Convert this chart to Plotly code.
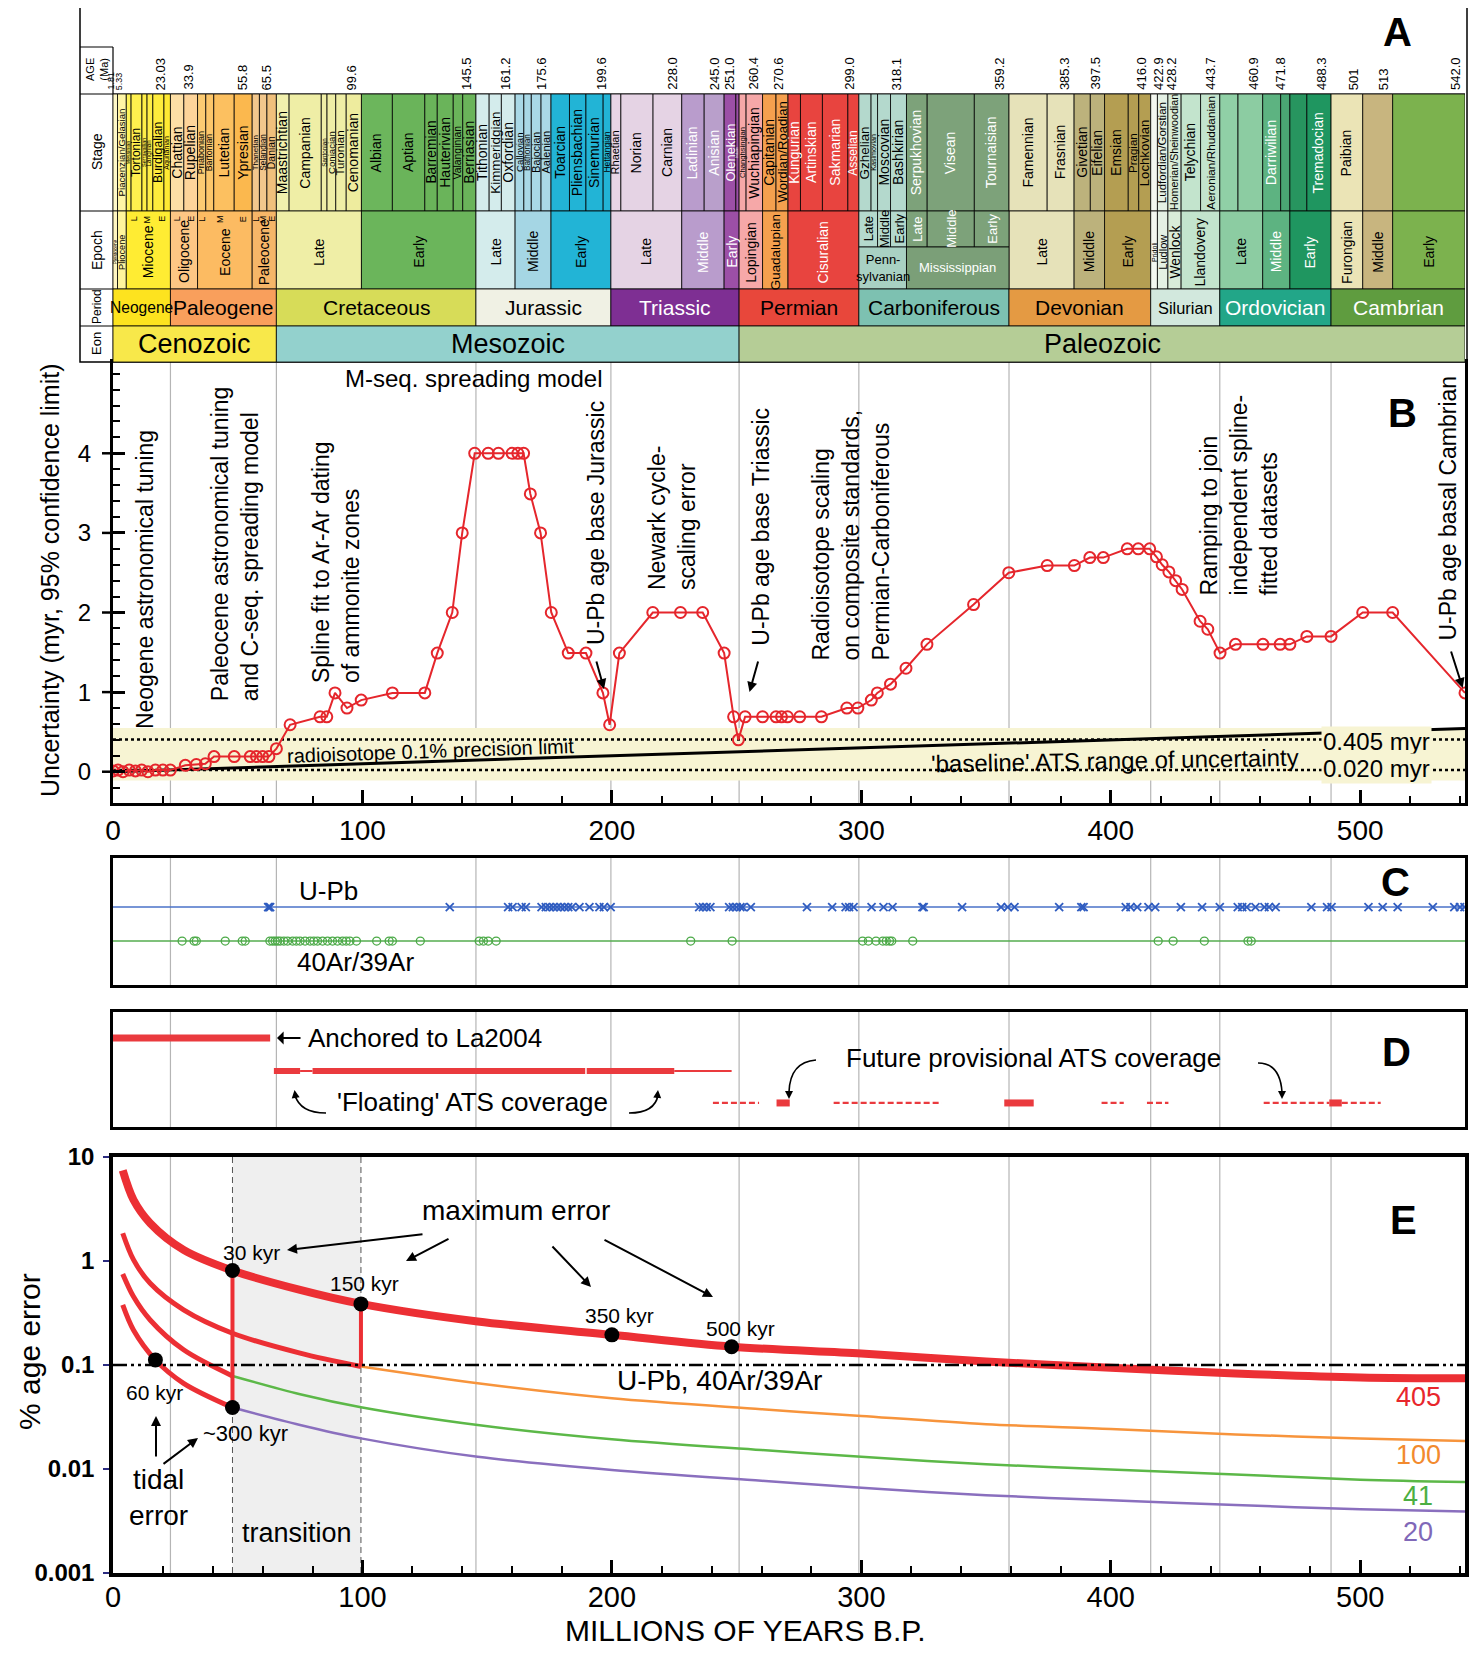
import plotly.graph_objects as go

FONT = "Liberation Sans, Arial, Helvetica, sans-serif"
OFF = 8                      # page body margin of the html page
W, H = 1481 - 2 * OFF, 1658 - 2 * OFF
XL, XR = 113, 1465           # page pixel position of 0 Ma and 542 Ma
XMAX = 542.0
SC = (XR - XL) / XMAX


def P(xpx):
    return (xpx - XL) / (XR - XL)


def Q(ypx):
    return 1 - (ypx - OFF) / H


# ======================= DATA =======================
# ---- Panel A : time scale (Ma) ----
age_ticks = [1.81, 5.33, 23.03, 33.9, 55.8, 65.5, 99.6, 145.5, 161.2, 175.6, 199.6, 228.0, 245.0, 251.0,
             260.4, 270.6, 299.0, 318.1, 359.2, 385.3, 397.5, 416.0, 422.9, 428.2, 443.7, 460.9, 471.8,
             488.3, 501, 513, 542.0]
age_tick_text = ["1.81", "5.33", "23.03", "33.9", "55.8", "65.5", "99.6", "145.5", "161.2", "175.6", "199.6",
                 "228.0", "245.0", "251.0", "260.4", "270.6", "299.0", "318.1", "359.2", "385.3", "397.5",
                 "416.0", "422.9", "428.2", "443.7", "460.9", "471.8", "488.3", "501", "513", "542.0"]

stage_bounds = [0, 1.81, 5.33, 7.25, 11.61, 13.65, 15.97, 20.43, 23.03,
                28.4, 33.9, 37.2, 40.4, 48.6, 55.8, 58.7, 61.7, 65.5,
                70.6, 83.5, 85.8, 89.3, 93.5, 99.6, 112.0, 125.0, 130.0, 136.4, 140.2, 145.5,
                150.8, 155.7, 161.2, 164.7, 167.7, 171.6, 175.6, 183.0, 189.6, 196.5, 199.6,
                203.6, 216.5, 228.0, 237.0, 245.0, 249.7, 251.0,
                253.8, 260.4, 265.8, 270.6, 275.6, 284.4, 294.6, 299.0,
                303.9, 306.5, 311.7, 318.1, 326.4, 345.3, 359.2,
                374.5, 385.3, 391.8, 397.5, 407.0, 411.2, 416.0,
                418.7, 422.9, 428.2, 436.0, 443.7,
                451.0, 460.9, 468.1, 471.8, 478.6, 488.3,
                501.0, 513.0, 542.0]
stage_names = ["", "Piacenzian/Gelasian", "Messinian", "Tortonian", "Serravallian", "Langhian", "Burdigalian", "Aquitanian",
               "Chattian", "Rupelian", "Priabonian", "Bartonian", "Lutetian", "Ypresian", "Thanetian", "Selandian", "Danian",
               "Maastrichtian", "Campanian", "Santonian", "Coniacian", "Turonian", "Cenomanian", "Albian", "Aptian",
               "Barremian", "Hauterivian", "Valanginian", "Berriasian",
               "Tithonian", "Kimmeridgian", "Oxfordian", "Callovian", "Bathonian", "Bajocian", "Aalenian", "Toarcian",
               "Pliensbachian", "Sinemurian", "Hettangian",
               "Rhaetian", "Norian", "Carnian", "Ladinian", "Anisian", "Olenekian", "Induan",
               "Changhsingian", "Wuchiapingian", "Capitanian", "Wordian/Roadian", "Kungurian", "Artinskian", "Sakmarian", "Asselian",
               "Gzhelian", "Kasimovian", "Moscovian", "Bashkirian", "Serpukhovian", "Visean", "Tournaisian",
               "Famennian", "Frasnian", "Givetian", "Eifelian", "Emsian", "Pragian", "Lochkovian",
               "", "Ludfordian/Gorstian", "Homerian/Sheinwoodian", "Telychian", "Aeronian/Rhuddanian",
               "", "", "Darriwilian", "", "", "Tremadocian",
               "Paibian", "", ""]
stage_colors = ["#fff9c8", "#fff6a6", "#fff35a", "#fff04e", "#ffee48", "#ffee48", "#ffec3c", "#ffe933",
                "#fddfa6", "#fdd49a", "#fccb72", "#fcc66a", "#fcc060", "#fbb84e", "#f2c78c", "#f2c78c", "#f0c07c",
                "#f1f0ad", "#efeea6", "#efeea6", "#efeea6", "#efeea6", "#eeec9e", "#6cb65c", "#6ab45a",
                "#6ab45a", "#6ab45a", "#6ab45a", "#6ab45a",
                "#d4ecec", "#d4ecec", "#d4ecec", "#a9d8e6", "#a9d8e6", "#a9d8e6", "#a9d8e6", "#22b4d6",
                "#22b4d6", "#22b4d6", "#22b4d6",
                "#e7d5e6", "#e5d3e4", "#e5d3e4", "#b99ccc", "#b99fcb", "#9c4fa6", "#9c4fa6",
                "#f6a8a8", "#f6a8a8", "#f5a04e", "#f5a04e", "#e8443f", "#e8443f", "#e8443f", "#e8443f",
                "#b4d9cd", "#b4d9cd", "#b4d9cd", "#b4d9cd", "#7da27a", "#7da27a", "#7da27a",
                "#e6e2b9", "#e6e2b9", "#bcb27c", "#bcb27c", "#b49e52", "#b49e52", "#b49e52",
                "#f3f7f0", "#e4f0e4", "#d9ecd9", "#c3e4cd", "#c3e4cd",
                "#90d0a6", "#8ccca2", "#5db381", "#4aa673", "#27955f", "#1f9660",
                "#ebe4b6", "#c8b57f", "#7cb24e"]
white_text_stages = ["Ladinian", "Anisian", "Olenekian", "Induan", "Kungurian", "Artinskian", "Sakmarian",
                     "Asselian", "Serpukhovian", "Visean", "Tournaisian", "Darriwilian", "Tremadocian"]

epoch_names = ["Pleistocene", "Pliocene", "Miocene", "Oligocene", "Eocene", "Paleocene", "Late", "Early",
               "Late", "Middle", "Early", "Late", "Middle", "Early", "Lopingian", "Guadalupian", "Cisuralian",
               "Late", "Middle", "Early", "Pridoli", "Ludlow", "Wenlock", "Llandovery", "Late", "Middle", "Early",
               "Furongian", "Middle", "Early"]
epoch_start = [0, 1.81, 5.33, 23.03, 33.9, 55.8, 65.5, 99.6, 145.5, 161.2, 175.6, 199.6, 228.0, 245.0, 251.0,
               260.4, 270.6, 359.2, 385.3, 397.5, 416.0, 418.7, 422.9, 428.2, 443.7, 460.9, 471.8, 488.3, 501.0, 513.0]
epoch_end = [1.81, 5.33, 23.03, 33.9, 55.8, 65.5, 99.6, 145.5, 161.2, 175.6, 199.6, 228.0, 245.0, 251.0, 260.4,
             270.6, 299.0, 385.3, 397.5, 416.0, 418.7, 422.9, 428.2, 443.7, 460.9, 471.8, 488.3, 501.0, 513.0, 542.0]
epoch_colors = ["#fff6c0", "#fff59c", "#ffec33", "#fdc684", "#fcbb62", "#f6b668", "#efeea6", "#6bb55b",
                "#d4ecec", "#a5d6e4", "#22b4d6", "#e5d3e4", "#b99ccc", "#9c4fa6", "#f6a8a8", "#f5a04e", "#e8443f",
                "#e6e2b9", "#bcb27c", "#b49e52", "#f3f7f0", "#e4f0e4", "#d9ecd9", "#c3e4cd", "#8ccca2", "#5db381",
                "#1f9660", "#ebe4b6", "#c8b57f", "#7cb24e"]
epoch_text = ["k", "k", "k", "k", "k", "k", "k", "k", "k", "k", "k", "k", "w", "w", "k", "k", "w",
              "k", "k", "k", "k", "k", "k", "k", "k", "w", "w", "k", "k", "k"]

carb_sub_names = ["Late", "Middle", "Early", "Late", "Middle", "Early"]
carb_sub_bounds = [299.0, 306.5, 311.7, 318.1, 326.4, 345.3, 359.2]
carb_sub_colors = ["#b4d9cd", "#b4d9cd", "#b4d9cd", "#7da27a", "#7da27a", "#7da27a"]
carb_sub_text = ["k", "k", "k", "w", "w", "w"]
carb_names = ["Penn-<br>sylvanian", "Mississippian"]
carb_bounds = [299.0, 318.1, 359.2]
carb_colors = ["#a9d1c3", "#7b9f78"]
carb_text = ["k", "w"]

cen_sub_names = ["L", "M", "E", "L", "E", "L", "M", "E", "L", "M", "E"]
cen_sub_start = [5.33, 11.61, 15.97, 23.03, 28.4, 33.9, 37.2, 48.6, 55.8, 58.7, 61.7]
cen_sub_end = [11.61, 15.97, 23.03, 28.4, 33.9, 37.2, 48.6, 55.8, 58.7, 61.7, 65.5]

period_names = ["Neogene", "Paleogene", "Cretaceous", "Jurassic", "Triassic", "Permian", "Carboniferous",
                "Devonian", "Silurian", "Ordovician", "Cambrian"]
period_bounds = [0, 23.03, 65.5, 145.5, 199.6, 251.0, 299.0, 359.2, 416.0, 443.7, 488.3, 542.0]
period_colors = ["#fde31f", "#f99f5c", "#d7dc58", "#f0f1e4", "#7e2f93", "#e8473b", "#7dc1b1", "#e49a43",
                 "#d2e8dd", "#22a688", "#5f9c3f"]
period_text = ["k", "k", "k", "k", "w", "k", "k", "k", "k", "w", "w"]

eon_names = ["Cenozoic", "Mesozoic", "Paleozoic"]
eon_bounds = [0, 65.5, 251.0, 542.0]
eon_colors = ["#f8e84a", "#93d1cd", "#b5cd96"]

boundary_lines = [23.03, 65.5, 145.5, 199.6, 251.0, 299.0, 359.2, 416.0, 443.7, 488.3]
boundary_lines_e = [23.03, 145.5, 251.0, 299.0, 359.2, 416.0, 443.7, 488.3]

# ---- Panel B : uncertainty (myr) ----
ageB = [0, 2, 4, 6.5, 9, 11.5, 14, 17, 20, 23,
        29, 33.4, 37, 40.5, 48.6, 55, 57.5, 60, 62.5, 65.5,
        71, 83, 85.7, 89, 93.8, 99.5, 112, 125, 130, 136,
        140, 145, 150.4, 154.5, 160, 162.3, 164.6, 167.3, 171.4, 175.7,
        182.5, 189.6, 196.4, 199.1, 203, 216.4, 227.5, 236.4, 245, 248.8,
        250.7, 253.4, 260.4, 265.8, 268, 270.4, 275.3, 284, 294.2, 298.6,
        304, 306.4, 311.7, 317.9, 326.3, 345, 359.1, 374.5, 385.4, 391.6,
        397, 406.6, 411, 415.6, 418.3, 420.6, 423.3, 426, 428.6, 435.8,
        438.9, 443.8, 450, 461, 467.9, 471.8, 478.6, 488.3, 501, 513,
        542]
uncB = [0.01, 0.02, 0.0, 0.02, 0.01, 0.02, 0.0, 0.02, 0.02, 0.02,
        0.08, 0.09, 0.10, 0.19, 0.19, 0.19, 0.19, 0.19, 0.19, 0.29,
        0.59, 0.69, 0.69, 0.99, 0.80, 0.90, 0.99, 0.99, 1.49, 2.0,
        3.0, 4.0, 4.0, 4.0, 4.0, 4.0, 4.0, 3.49, 3.0, 2.0,
        1.49, 1.49, 0.99, 0.59, 1.49, 2.0, 2.0, 2.0, 1.49, 0.69,
        0.40, 0.69, 0.69, 0.69, 0.69, 0.69, 0.69, 0.69, 0.80, 0.80,
        0.90, 0.99, 1.10, 1.30, 1.60, 2.10, 2.50, 2.59, 2.59, 2.69,
        2.69, 2.80, 2.80, 2.80, 2.70, 2.60, 2.51, 2.40, 2.29, 1.89,
        1.79, 1.49, 1.60, 1.60, 1.60, 1.60, 1.70, 1.70, 2.0, 2.0,
        0.99]
precision_age = [0, 542]
precision_unc = [0.0, 0.542]
baseline_levels = [0.405, 0.020]
band_range = [-0.11, 0.55]

# ---- Panel C : radioisotope dates (Ma) ----
upb_ages = [62.2, 62.6, 63.0, 135, 158.4, 160.2, 163.8, 165.5, 171.8, 173.5, 175, 176.5, 178, 179.5, 181,
            182.5, 184, 187, 191, 195, 196.8, 199.5, 235, 236.5, 238, 239.5, 247, 248.5, 250, 251.5, 252.5,
            255.7, 278.2, 288.3, 293.7, 295.1, 296.9, 304.1, 308.9, 312.5, 324.5, 325, 340.4, 356, 358.7,
            361.4, 379.3, 388.2, 389.1, 406, 407.9, 410.6, 415.1, 417.8, 428.1, 436.6, 443.7, 450.9, 452.7,
            454.5, 458, 461.6, 463.4, 466.1, 480.4, 486.7, 488.5, 503.3, 509, 515, 529.1, 537.7, 540.0, 541.8]
ar_ages = [27.7, 32.5, 33.4, 45, 51.8, 53, 62.9, 64, 65, 66, 67, 68.5, 70, 72, 73.5, 75, 77, 79, 80.5, 82,
           84, 86, 88, 90, 92, 93.5, 95, 97.6, 105.7, 110.7, 112, 123.2, 146.8, 148.5, 150.4, 153.6, 231.6,
           248.2, 300.5, 302.8, 305.9, 308.6, 310, 311.3, 312.2, 320.6, 419, 425, 437.5, 455, 456.3]

# ---- Panel D : ATS coverage (Ma) ----
anchored_start = [0]
anchored_end = [63]
floating_thick_start = [64.5, 80, 189.9]
floating_thick_end = [75, 189.3, 225]
floating_thin_start = [75, 225]
floating_thin_end = [80, 248]
future_dash_start = [240.5, 288.9, 396.3, 414.5, 461.3, 492.6]
future_dash_end = [259, 332.2, 405.2, 423.1, 487.6, 508.2]
future_thick_start = [266, 357.3, 487.6]
future_thick_end = [271.3, 369.1, 492.6]

# ---- Panel E : % age error ----
e405_age = [3.9, 8.2, 14.9, 28.3, 47.9, 75, 99.4, 146.2, 200, 248, 300, 350, 400, 450, 500, 542]
e405_val = [7.43, 3.88, 2.31, 1.28, 0.81, 0.527, 0.387, 0.262, 0.195, 0.150, 0.129, 0.108, 0.094, 0.083, 0.076, 0.0745]
e100_age = [3.9, 8.2, 14.9, 28.3, 47.9, 75, 99.4, 146.2, 200, 260, 300, 350, 400, 450, 500, 542]
e100_val = [1.85, 1.03, 0.61, 0.339, 0.202, 0.13, 0.0966, 0.0668, 0.0479, 0.0376, 0.0323, 0.027, 0.0243, 0.0215, 0.0197, 0.0186]
e41_age = [3.9, 8.2, 14.9, 28.3, 47.9, 75, 99.4, 146.2, 200, 260, 300, 350, 400, 450, 500, 542]
e41_val = [0.75, 0.455, 0.271, 0.14, 0.0785, 0.0524, 0.0393, 0.0265, 0.0193, 0.0152, 0.0131, 0.0111, 0.0099, 0.00885, 0.0079, 0.0075]
e20_age = [3.9, 8.2, 17, 28.3, 47.9, 75, 99.4, 146.2, 200, 260, 300, 350, 400, 450, 500, 542]
e20_val = [0.378, 0.217, 0.112, 0.0667, 0.039, 0.0265, 0.0197, 0.0131, 0.0098, 0.0077, 0.0066, 0.0056, 0.0050, 0.0045, 0.0041, 0.0039]
e_split_100 = 99.4
e_split_low = 47.9
e_mark_age = [47.9, 99.4, 200, 248, 17, 47.9]
e_mark_val = [0.81, 0.387, 0.195, 0.150, 0.112, 0.039]
e_vlines_age = [47.9, 99.4]
e_vlines_lo = [0.039, 0.0966]
e_vlines_hi = [0.81, 0.387]
utpb_level = 0.1
transition = [47.9, 99.4]

# ======================= FIGURE =======================
RED = "#e5262c"
fig = go.Figure()
shapes = []
anns = []


def ann(x, y, text, size, xref="paper", yref="paper", color="black", angle=0, xa="center", ya="middle",
        bold=False, **kw):
    d = dict(x=x, y=y, text=text, xref=xref, yref=yref, showarrow=False, textangle=angle,
             xanchor=xa, yanchor=ya, font=dict(family=FONT, size=size, color=color,
                                               weight="bold" if bold else "normal"))
    d.update(kw)
    anns.append(d)


def arrow(x0, y0, x1, y1, width=2, size=1.0, head=2):
    anns.append(dict(x=P(x1), y=Q(y1), xref="paper", yref="paper", ax=x0 - x1, ay=y0 - y1, text="",
                     showarrow=True, arrowhead=head, arrowsize=size, arrowwidth=width, arrowcolor="black",
                     standoff=0))


def cell(x0, x1, ytop, ybot, color):
    shapes.append(dict(type="rect", xref="x", yref="paper", x0=x0, x1=x1, y0=Q(ybot), y1=Q(ytop),
                       fillcolor=color, line=dict(color="black", width=0.8)))


# ---------- Panel A ----------
shapes.append(dict(type="rect", xref="paper", yref="paper", x0=P(80), x1=P(1467), y0=Q(362), y1=Q(6),
                   line=dict(color="black", width=1.5), fillcolor="rgba(0,0,0,0)"))
shapes.append(dict(type="line", xref="paper", yref="paper", x0=P(113), x1=P(113), y0=Q(362), y1=Q(47),
                   line=dict(color="black", width=1.2)))
for yy in [47, 94, 211, 289, 326]:
    shapes.append(dict(type="line", xref="paper", yref="paper", x0=P(80), x1=P(113), y0=Q(yy), y1=Q(yy),
                       line=dict(color="black", width=1.2)))
shapes.append(dict(type="line", xref="paper", yref="paper", x0=P(113), x1=P(1465), y0=Q(94), y1=Q(94),
                   line=dict(color="black", width=1.2)))

row_labels = [("AGE<br>(Ma)", 70, 11), ("Stage", 152, 14), ("Epoch", 250, 14), ("Period", 307, 12), ("Eon", 344, 13)]
for t, yy, s in row_labels:
    ann(P(97), Q(yy), t, s, angle=-90)

for a, t in zip(age_ticks, age_tick_text):
    ann(a, Q(92), t, 9 if a < 10 else 13, xref="x", angle=-90, xa="right", ya="bottom")

for i, name in enumerate(stage_names):
    s, e = stage_bounds[i], stage_bounds[i + 1]
    cell(s, e, 94, 211, stage_colors[i])
    if name:
        w = (e - s) * SC
        size = min(14, 1.1 * w, 112 / (0.5 * len(name)))
        col = "white" if name in white_text_stages else "black"
        ann((s + e) / 2, Q(152.5), name, size, xref="x", angle=-90, color=col)

for i, name in enumerate(epoch_names):
    s, e = epoch_start[i], epoch_end[i]
    cell(s, e, 211, 289, epoch_colors[i])
    w = (e - s) * SC
    size = min(14, 1.05 * w, 74 / (0.5 * len(name)))
    if size >= 4:
        ann((s + e) / 2, Q(252), name, size, xref="x", angle=-90,
            color="white" if epoch_text[i] == "w" else "black")

for i, name in enumerate(carb_sub_names):
    s, e = carb_sub_bounds[i], carb_sub_bounds[i + 1]
    cell(s, e, 211, 247, carb_sub_colors[i])
    w = (e - s) * SC
    ann((s + e) / 2, Q(229), name, min(13, 1.0 * w), xref="x", angle=-90,
        color="white" if carb_sub_text[i] == "w" else "black")
for i, name in enumerate(carb_names):
    s, e = carb_bounds[i], carb_bounds[i + 1]
    cell(s, e, 247, 289, carb_colors[i])
    ann((s + e) / 2, Q(268), name, 13, xref="x", color="white" if carb_text[i] == "w" else "black")

for i, name in enumerate(cen_sub_names):
    s, e = cen_sub_start[i], cen_sub_end[i]
    ann((s + e) / 2, Q(219), name, 9, xref="x", angle=-90)

for i, name in enumerate(period_names):
    s, e = period_bounds[i], period_bounds[i + 1]
    cell(s, e, 289, 326, period_colors[i])
    w = (e - s) * SC
    ann((s + e) / 2, Q(307.5), name, min(21, 0.95 * w / (0.5 * len(name))), xref="x",
        color="white" if period_text[i] == "w" else "black")

for i, name in enumerate(eon_names):
    s, e = eon_bounds[i], eon_bounds[i + 1]
    cell(s, e, 326, 362, eon_colors[i])
    ann((s + e) / 2, Q(344), name, 27, xref="x")

ann(P(1397), Q(32), "A", 40, bold=True)

# ---------- Panel B ----------
shapes.append(dict(type="rect", xref="x", yref="y", x0=0, x1=XMAX, y0=band_range[0], y1=band_range[1],
                   fillcolor="#f7f4d3", line=dict(width=0), layer="below"))
for b in boundary_lines:
    for xr, yr in [("x", "y"), ("x2", "y2"), ("x3", "y3")]:
        shapes.append(dict(type="line", xref=xr, yref=yr + " domain", x0=b, x1=b, y0=0, y1=1,
                           line=dict(color="#b5b5b5", width=1.2), layer="below"))
for b in boundary_lines_e:
    shapes.append(dict(type="line", xref="x4", yref="y4 domain", x0=b, x1=b, y0=0, y1=1,
                       line=dict(color="#b5b5b5", width=1.2), layer="below"))
# outer half of the major y ticks of panel B
for v in range(5):
    shapes.append(dict(type="line", xref="paper", yref="y", x0=P(102), x1=P(113), y0=v, y1=v,
                       line=dict(color="black", width=2.5)))

for lv in baseline_levels:
    fig.add_trace(go.Scatter(x=[0, XMAX], y=[lv, lv], mode="lines", xaxis="x", yaxis="y",
                             line=dict(color="black", width=2.5, dash="dot"), hoverinfo="skip"))
fig.add_trace(go.Scatter(x=precision_age, y=precision_unc, mode="lines", xaxis="x", yaxis="y",
                         line=dict(color="black", width=3), hoverinfo="skip"))
fig.add_trace(go.Scatter(x=ageB, y=uncB, mode="lines+markers", xaxis="x", yaxis="y",
                         line=dict(color=RED, width=2),
                         marker=dict(symbol="circle-open", size=11, color=RED, line=dict(width=2, color=RED))))


def bx(px_):
    return (px_ - XL) / SC


def by(py_):
    return (771.7 - py_) / 79.6


ann(bx(144.6), by(731), "Neogene astronomical tuning", 23, xref="x", yref="y", angle=-90, ya="bottom")
ann(bx(234.7), by(703), "Paleocene astronomical tuning<br>and C-seq. spreading model", 23, xref="x", yref="y",
    angle=-90, ya="bottom", align="left")
ann(bx(336), by(685), "Spline fit to Ar-Ar dating<br>of ammonite zones", 23, xref="x", yref="y",
    angle=-90, ya="bottom", align="left")
ann(bx(473), by(378), "M-seq. spreading model", 24, xref="x", yref="y")
ann(bx(596), by(647), "U-Pb age base Jurassic", 23, xref="x", yref="y", angle=-90, ya="bottom")
ann(bx(672), by(592), "Newark cycle-<br>scaling error", 23, xref="x", yref="y", angle=-90, ya="bottom",
    align="left")
ann(bx(760.7), by(648), "U-Pb age base Triassic", 23, xref="x", yref="y", angle=-90, ya="bottom")
ann(bx(851), by(663), "Radioisotope scaling<br>on composite standards,<br>Permian-Carboniferous", 23,
    xref="x", yref="y", angle=-90, ya="bottom", align="left")
ann(bx(1239), by(598), "Ramping to join<br>independent spline-<br>fitted datasets", 23, xref="x", yref="y",
    angle=-90, ya="bottom", align="left")
ann(bx(1448), by(643), "U-Pb age basal Cambrian", 23, xref="x", yref="y", angle=-90, ya="bottom")
ann(bx(1402), by(413), "B", 40, xref="x", yref="y", bold=True)
ann(bx(430), by(751), "radioisotope 0.1% precision limit", 20, xref="x", yref="y", angle=-2)
ann(bx(1115), by(760), "'baseline' ATS range of uncertainty", 24, xref="x", yref="y", angle=-1)
ann(bx(1376), by(741.5), "0.405 myr", 24, xref="x", yref="y", bgcolor="#f7f4d3")
ann(bx(1376), by(768.5), "0.020 myr", 24, xref="x", yref="y", bgcolor="#f7f4d3")
arrow(596, 660, 604, 689)
arrow(758.5, 660, 749.5, 692)
arrow(1450.6, 650, 1462.7, 688)
ann(P(50), Q(581), "Uncertainty (myr, 95% confidence limit)", 25, angle=-90)

# ---------- Panel C ----------
fig.add_trace(go.Scatter(x=[0, XMAX], y=[0.614, 0.614], mode="lines", xaxis="x2", yaxis="y2",
                         line=dict(color="#4a72c8", width=1.5), hoverinfo="skip"))
fig.add_trace(go.Scatter(x=[0, XMAX], y=[0.346, 0.346], mode="lines", xaxis="x2", yaxis="y2",
                         line=dict(color="#55ad4f", width=1.5), hoverinfo="skip"))
fig.add_trace(go.Scatter(x=upb_ages, y=[0.614] * len(upb_ages), mode="markers", xaxis="x2", yaxis="y2",
                         marker=dict(symbol="x-thin-open", size=8, color="#2f5cc0",
                                     line=dict(width=1.8, color="#2f5cc0"))))
fig.add_trace(go.Scatter(x=ar_ages, y=[0.346] * len(ar_ages), mode="markers", xaxis="x2", yaxis="y2",
                         marker=dict(symbol="circle-open", size=8, color="#4caa48",
                                     line=dict(width=1.3, color="#4caa48"))))
ann(P(328), Q(891), "U-Pb", 26)
ann(P(355), Q(962), "40Ar/39Ar", 26)
ann(P(1395), Q(882), "C", 40, bold=True)

# ---------- Panel D ----------
DRED = "#ea3a3e"


def segs(starts, ends, yv):
    xs, ys = [], []
    for s, e in zip(starts, ends):
        xs += [s, e, None]
        ys += [yv, yv, None]
    return xs, ys


for st, en, yv, wd, dash in [
    (anchored_start, anchored_end, 0.774, 7, "solid"),
    (floating_thick_start, floating_thick_end, 0.487, 6, "solid"),
    (floating_thin_start, floating_thin_end, 0.487, 2, "solid"),
    (future_dash_start, future_dash_end, 0.209, 2.2, "6px,3px"),
    (future_thick_start, future_thick_end, 0.209, 7, "solid"),
]:
    xs, ys = segs(st, en, yv)
    fig.add_trace(go.Scatter(x=xs, y=ys, mode="lines", xaxis="x3", yaxis="y3",
                             line=dict(color=DRED, width=wd, dash=dash), hoverinfo="skip"))
arrow(302, 1038, 277, 1038, width=2, size=1.1, head=1)
ann(P(306), Q(1038), "Anchored to La2004", 26, xa="left")
ann(P(472), Q(1102), "'Floating' ATS coverage", 26)
ann(P(1033), Q(1058), "Future provisional ATS coverage", 26)
ann(P(1396), Q(1052), "D", 40, bold=True)


def curve(x0, y0, cx, cy, x1, y1):
    shapes.append(dict(type="path", xref="paper", yref="paper",
                       path=f"M {P(x0)},{Q(y0)} Q {P(cx)},{Q(cy)} {P(x1)},{Q(y1)}",
                       line=dict(color="black", width=1.6)))


curve(326, 1113, 300, 1113, 295, 1095)
arrow(296, 1100, 294.5, 1090, width=1.6)
curve(629, 1113, 655, 1113, 658, 1095)
arrow(657, 1100, 658, 1090, width=1.6)
curve(816, 1060, 790, 1062, 789, 1092)
arrow(789, 1090, 789, 1099, width=1.6)
curve(1258, 1063, 1280, 1063, 1282, 1092)
arrow(1282, 1090, 1282, 1099, width=1.6)

# ---------- Panel E ----------
shapes.append(dict(type="rect", xref="x4", yref="y4 domain", x0=transition[0], x1=transition[1], y0=0, y1=1,
                   fillcolor="#efefef", line=dict(width=0), layer="below"))
for t in transition:
    shapes.append(dict(type="line", xref="x4", yref="y4 domain", x0=t, x1=t, y0=0, y1=1,
                       line=dict(color="#555555", width=1, dash="6px,4px"), layer="below"))

ERED = "#ec2f34"


def split(ages, vals, cut):
    lo = [(a, v) for a, v in zip(ages, vals) if a <= cut]
    hi = [(a, v) for a, v in zip(ages, vals) if a >= cut]
    return lo, hi


def eline(pts, color, width):
    fig.add_trace(go.Scatter(x=[p[0] for p in pts], y=[p[1] for p in pts], mode="lines", xaxis="x4",
                             yaxis="y4", line=dict(color=color, width=width, shape="spline", smoothing=0.9),
                             hoverinfo="skip"))


lo, hi = split(e20_age, e20_val, e_split_low)
eline(hi, "#8a6fbe", 2.5)
eline(lo, ERED, 5)
lo, hi = split(e41_age, e41_val, e_split_low)
eline(hi, "#5cb848", 2.5)
eline(lo, ERED, 5)
lo, hi = split(e100_age, e100_val, e_split_100)
eline(hi, "#f7943c", 2.5)
eline(lo, ERED, 5)
eline(list(zip(e405_age, e405_val)), ERED, 8)
for a, lo_, hi_ in zip(e_vlines_age, e_vlines_lo, e_vlines_hi):
    fig.add_trace(go.Scatter(x=[a, a], y=[lo_, hi_], mode="lines", xaxis="x4", yaxis="y4",
                             line=dict(color=ERED, width=4), hoverinfo="skip"))
fig.add_trace(go.Scatter(x=[0, XMAX], y=[utpb_level, utpb_level], mode="lines", xaxis="x4", yaxis="y4",
                         line=dict(color="black", width=2.5, dash="14px,4px,3px,4px,3px,4px"), hoverinfo="skip"))
fig.add_trace(go.Scatter(x=e_mark_age, y=e_mark_val, mode="markers", xaxis="x4", yaxis="y4",
                         marker=dict(color="black", size=15)))

ann(P(516), Q(1210), "maximum error", 28)
arrow(424, 1234, 287, 1250)
arrow(450, 1238, 406, 1261)
arrow(551, 1245, 591, 1287)
arrow(603, 1239, 713, 1297)
ann(P(251), Q(1252), "30 kyr", 21)
ann(P(364), Q(1283), "150 kyr", 21)
ann(P(619), Q(1315), "350 kyr", 21)
ann(P(740), Q(1328), "500 kyr", 21)
ann(P(719), Q(1380), "U-Pb, 40Ar/39Ar", 28)
ann(P(154), Q(1392), "60 kyr", 21)
ann(P(245), Q(1433), "~300 kyr", 22)
ann(P(158), Q(1497), "tidal<br>error", 28)
arrow(156, 1458, 156, 1416)
arrow(162, 1465, 198, 1438)
ann(P(297), Q(1533), "transition", 27)
ann(P(1403), Q(1220), "E", 40, bold=True)
ann(P(1418), Q(1397), "405", 27, color="#e8262c")
ann(P(1418), Q(1455), "100", 27, color="#f28a2e")
ann(P(1418), Q(1496), "41", 27, color="#4caf42")
ann(P(1418), Q(1532), "20", 27, color="#8068b8")
ann(P(29), Q(1352), "% age error", 30, angle=-90)
ann(P(745), Q(1630), "MILLIONS OF YEARS B.P.", 30)

# ---------- axes ----------
common_x = dict(range=[0, XMAX], domain=[0, 1], showgrid=False, zeroline=False, automargin=False,
                showline=True, linecolor="black", mirror=True, fixedrange=True)
fig.update_layout(
    width=W, height=H, margin=dict(l=XL - OFF, r=W - (XR - OFF), t=0, b=0), autosize=False,
    template="none", showlegend=False, paper_bgcolor="white", plot_bgcolor="rgba(0,0,0,0)",
    font=dict(family=FONT, color="black"),
    xaxis=dict(common_x, anchor="y", linewidth=3, ticks="inside", tick0=0, dtick=100, ticklen=13,
               tickwidth=2.5, tickcolor="black", tickfont=dict(size=28), ticklabelstandoff=0,
               minor=dict(ticks="inside", dtick=20, ticklen=7, tickwidth=2, tickcolor="black")),
    yaxis=dict(domain=[Q(803), Q(362)], range=[-0.393, 5.147], anchor="x", showgrid=False, zeroline=False,
               automargin=False, showline=True, linecolor="black", linewidth=3, mirror=True,
               ticks="inside", tick0=0, dtick=1, ticklen=12, tickwidth=2.5, tickcolor="black",
               tickfont=dict(size=24), ticklabelstandoff=14, tickvals=[0, 1, 2, 3, 4],
               minor=dict(ticks="inside", tick0=0, dtick=0.2, ticklen=7, tickwidth=2, tickcolor="black")),
    xaxis2=dict(common_x, anchor="y2", linewidth=3, ticks="", showticklabels=False),
    yaxis2=dict(domain=[Q(985), Q(858)], range=[0, 1], anchor="x2", showgrid=False, zeroline=False,
                automargin=False, showline=True, linecolor="black", linewidth=3, mirror=True,
                ticks="", showticklabels=False),
    xaxis3=dict(common_x, anchor="y3", linewidth=3, ticks="", showticklabels=False),
    yaxis3=dict(domain=[Q(1127), Q(1012)], range=[0, 1], anchor="x3", showgrid=False, zeroline=False,
                automargin=False, showline=True, linecolor="black", linewidth=3, mirror=True,
                ticks="", showticklabels=False),
    xaxis4=dict(common_x, anchor="y4", linewidth=3.5, ticks="inside", tick0=0, dtick=100, ticklen=13,
                tickwidth=2.5, tickcolor="black", tickfont=dict(size=29), ticklabelstandoff=-5,
                minor=dict(ticks="inside", dtick=20, ticklen=7, tickwidth=2, tickcolor="black")),
    yaxis4=dict(domain=[Q(1573), Q(1157)], type="log", range=[-3, 1], anchor="x4", showgrid=False,
                zeroline=False, automargin=False, showline=True, linecolor="black", linewidth=3.5,
                mirror=True, tickvals=[0.001, 0.01, 0.1, 1, 10], ticktext=["0.001", "0.01", "0.1", "1", "10"],
                ticks="outside", ticklen=6, tickwidth=2, tickcolor="#2b2b80",
                tickfont=dict(size=24, weight="bold"), ticklabelstandoff=4),
    shapes=shapes,
    annotations=anns,
)

fig.write_html("out.html")
